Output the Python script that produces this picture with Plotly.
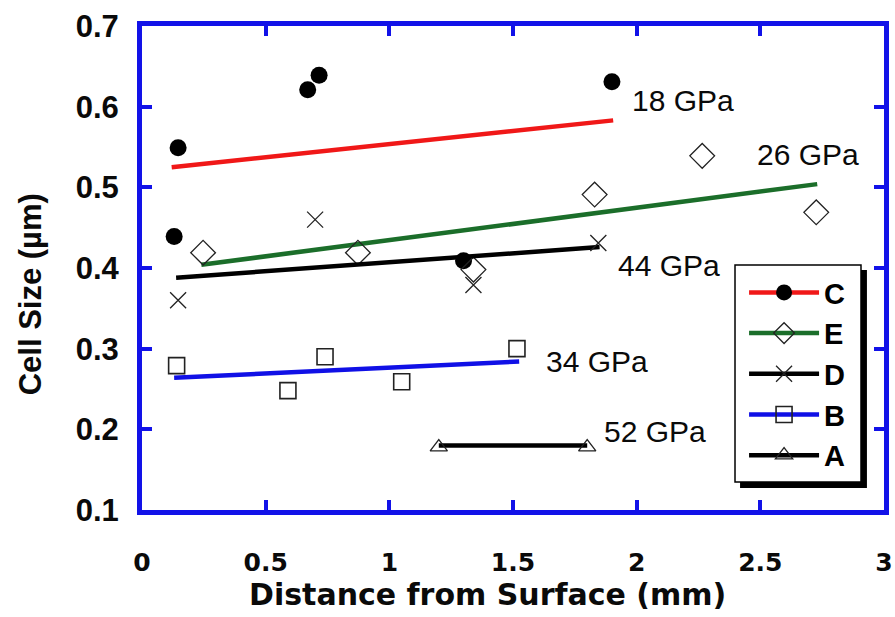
import plotly.graph_objects as go

# ---- data ----
c_x = [0.13, 0.146, 0.67, 0.716, 1.30, 1.90]
c_y = [0.439, 0.549, 0.621, 0.639, 0.409, 0.631]
c_fit_x = [0.12, 1.905]
c_fit_y = [0.525, 0.583]

e_x = [0.247, 0.873, 1.34, 1.83, 2.265, 2.726]
e_y = [0.419, 0.419, 0.398, 0.491, 0.539, 0.469]
e_fit_x = [0.24, 2.73]
e_fit_y = [0.404, 0.504]

d_x = [0.146, 0.70, 1.34, 1.845]
d_y = [0.360, 0.460, 0.379, 0.431]
d_fit_x = [0.138, 1.85]
d_fit_y = [0.388, 0.426]

b_x = [0.14, 0.59, 0.74, 1.05, 1.516]
b_y = [0.279, 0.248, 0.290, 0.259, 0.300]
b_fit_x = [0.13, 1.525]
b_fit_y = [0.264, 0.284]

a_x = [1.20, 1.80]
a_y = [0.178, 0.178]
a_fit_x = [1.20, 1.80]
a_fit_y = [0.180, 0.180]

label_text = ["18 GPa", "26 GPa", "44 GPa", "34 GPa", "52 GPa"]
label_x = [1.975, 2.48, 1.915, 1.625, 1.858]
label_y = [0.608, 0.541, 0.403, 0.284, 0.197]

x_ticks = [0, 0.5, 1, 1.5, 2, 2.5, 3]
x_tick_text = ["0", "0.5", "1", "1.5", "2", "2.5", "3"]
y_ticks = [0.1, 0.2, 0.3, 0.4, 0.5, 0.6, 0.7]
y_tick_text = ["0.1", "0.2", "0.3", "0.4", "0.5", "0.6", "0.7"]

x_title = "Distance from Surface (mm)"
y_title = "Cell Size (µm)"

# ---- styles ----
BLUE_AX = "#1212E8"
RED = "#F01818"
GREEN = "#1B6E2A"
BLUE = "#1010E6"
BLACK = "#000000"
MK_LINE = "#222222"
TXT = "#0a0a0a"

series = [
    ("C", c_x, c_y, c_fit_x, c_fit_y, RED,
     dict(symbol="circle", size=17, color=BLACK, line=dict(width=0))),
    ("E", e_x, e_y, e_fit_x, e_fit_y, GREEN,
     dict(symbol="diamond-open", size=19, color=MK_LINE, line=dict(width=1.3))),
    ("D", d_x, d_y, d_fit_x, d_fit_y, BLACK,
     dict(symbol="x-thin-open", size=16, color=MK_LINE, line=dict(width=1.3))),
    ("B", b_x, b_y, b_fit_x, b_fit_y, BLUE,
     dict(symbol="square-open", size=16, color=MK_LINE, line=dict(width=1.6))),
    ("A", a_x, a_y, a_fit_x, a_fit_y, BLACK,
     dict(symbol="triangle-up-open", size=15, color=MK_LINE, line=dict(width=1.3))),
]

fig = go.Figure()
for name, xs, ys, fx, fy, col, mk in series:
    fig.add_trace(go.Scatter(x=fx, y=fy, mode="lines", line=dict(color=col, width=4.5),
                             showlegend=False, hoverinfo="skip"))
    fig.add_trace(go.Scatter(x=xs, y=ys, mode="markers", marker=mk, showlegend=False, name=name))
    # legend entry
    fig.add_trace(go.Scatter(x=[None], y=[None], mode="lines+markers", name=name,
                             line=dict(color=col, width=4.5), marker=mk))

for t, lx, ly in zip(label_text, label_x, label_y):
    fig.add_annotation(x=lx, y=ly, xref="x", yref="y", text=t, showarrow=False,
                       xanchor="left", yanchor="middle",
                       font=dict(family="Liberation Sans, Arial", size=30, color=TXT))

# axis titles as annotations (placed as in the reference)
fig.add_annotation(x=0.465, y=-0.175, xref="paper", yref="paper", text=x_title, showarrow=False,
                   xanchor="center", yanchor="middle",
                   font=dict(family="DejaVu Sans", size=30, color=TXT, weight="bold"))
fig.add_annotation(x=-0.15, y=0.445, xref="paper", yref="paper", text=y_title, showarrow=False,
                   textangle=-90, xanchor="center", yanchor="middle",
                   font=dict(family="Liberation Sans, Arial", size=31, color=TXT, weight="bold"))

# legend box and shadow
fig.add_shape(type="rect", xref="paper", yref="paper", x0=0.806, x1=0.977, y0=0.0455, y1=0.496,
              fillcolor=BLACK, line=dict(width=0), layer="above")
fig.add_shape(type="rect", xref="paper", yref="paper", x0=0.7992, x1=0.969, y0=0.0579, y1=0.506,
              fillcolor="white", line=dict(color=BLACK, width=1.5), layer="above")

fig.update_layout(
    width=895, height=617,
    margin=dict(l=142, r=11, t=26, b=107),
    paper_bgcolor="white", plot_bgcolor="white",
    showlegend=True,
    legend=dict(x=0.8114, y=0.502, xanchor="left", yanchor="top",
                bgcolor="rgba(0,0,0,0)", borderwidth=0, itemwidth=70,
                font=dict(family="Liberation Sans, Arial", size=29, color=BLACK, weight="bold"),
                tracegroupgap=0),
    xaxis=dict(range=[0, 3], tickvals=x_ticks, ticktext=x_tick_text, automargin=False,
               showgrid=False, zeroline=False,
               showline=True, linecolor=BLUE_AX, linewidth=5, mirror="allticks",
               ticks="inside", ticklen=10, tickwidth=4, tickcolor=BLUE_AX,
               ticklabelstandoff=26,
               tickfont=dict(family="DejaVu Sans", size=25, color=TXT, weight="bold")),
    yaxis=dict(range=[0.1, 0.7], tickvals=y_ticks, ticktext=y_tick_text, automargin=False,
               showgrid=False, zeroline=False,
               showline=True, linecolor=BLUE_AX, linewidth=5, mirror="allticks",
               ticks="inside", ticklen=10, tickwidth=4, tickcolor=BLUE_AX,
               ticklabelstandoff=12,
               tickfont=dict(family="Liberation Sans, Arial", size=31,
                             color=TXT, weight="bold")),
)

fig.write_html("out.html")
